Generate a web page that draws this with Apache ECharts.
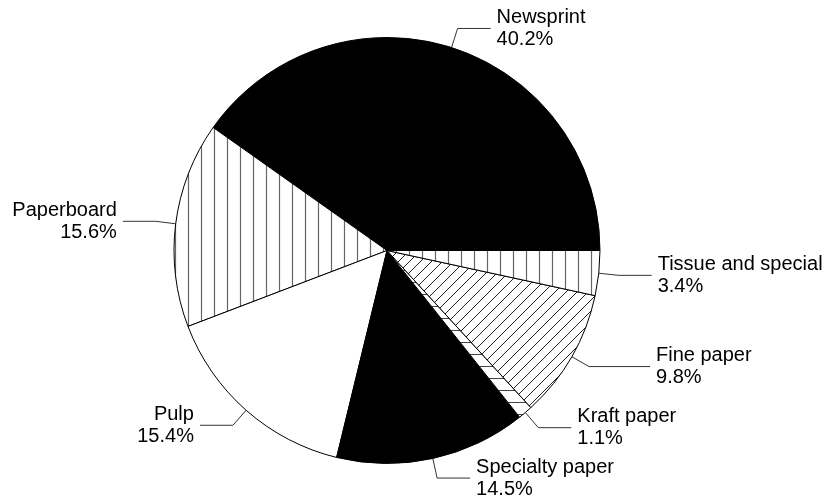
<!DOCTYPE html>
<html>
<head>
<meta charset="utf-8">
<script src="https://cdn.jsdelivr.net/npm/echarts@6/dist/echarts.min.js"></script>
<style>
html,body{margin:0;padding:0;background:#fff;}
#chart{width:838px;height:498px;}
</style>
</head>
<body>
<div id="chart"></div>
<script>
const categories = ["Newsprint", "Paperboard", "Pulp", "Specialty paper", "Kraft paper", "Fine paper", "Tissue and special"];
const shares = [40.2, 15.6, 15.4, 14.5, 1.1, 9.8, 3.4];
const fills = ["solid-black", "vertical", "solid-white", "solid-black", "horizontal", "diagonal", "vertical"];
const leaderTail = [33, 33, 33, 33, 33, 61, 33];

function makePattern(kind) {
  const c = document.createElement('canvas');
  const ctx = c.getContext('2d');
  if (kind === 'vertical') {
    c.width = 13; c.height = 13;
    ctx.fillStyle = '#fff'; ctx.fillRect(0, 0, 13, 13);
    ctx.strokeStyle = '#666'; ctx.lineWidth = 1.2;
    ctx.beginPath(); ctx.moveTo(6.5, 0); ctx.lineTo(6.5, 13); ctx.stroke();
  } else if (kind === 'horizontal') {
    c.width = 12; c.height = 12;
    ctx.fillStyle = '#fff'; ctx.fillRect(0, 0, 12, 12);
    ctx.strokeStyle = '#444'; ctx.lineWidth = 1;
    ctx.beginPath(); ctx.moveTo(0, 6.5); ctx.lineTo(12, 6.5); ctx.stroke();
  } else if (kind === 'diagonal') {
    const s = 11;
    c.width = s; c.height = s;
    ctx.fillStyle = '#fff'; ctx.fillRect(0, 0, s, s);
    ctx.strokeStyle = '#222'; ctx.lineWidth = 1;
    ctx.beginPath();
    ctx.moveTo(-1, 1); ctx.lineTo(1, -1);
    ctx.moveTo(0, s); ctx.lineTo(s, 0);
    ctx.moveTo(s - 1, s + 1); ctx.lineTo(s + 1, s - 1);
    ctx.stroke();
  }
  return { image: c, repeat: 'repeat' };
}

function fillFor(kind) {
  if (kind === 'solid-black') return '#000';
  if (kind === 'solid-white') return '#fff';
  return makePattern(kind);
}

const data = categories.map((name, i) => ({
  name: name,
  value: shares[i],
  itemStyle: { color: fillFor(fills[i]) },
  labelLine: { length2: leaderTail[i] }
}));

const chart = echarts.init(document.getElementById('chart'), null, { renderer: 'canvas' });
chart.setOption({
  animation: false,
  backgroundColor: '#fff',
  series: [{
    type: 'pie',
    center: [387, 250.5],
    radius: [0, 213],
    startAngle: 0,
    clockwise: false,
    avoidLabelOverlap: false,
    data: data,
    itemStyle: { borderColor: '#000', borderWidth: 1 },
    emphasis: { disabled: true },
    label: {
      show: true,
      position: 'outside',
      formatter: function (p) { return p.name + '\n' + p.value.toFixed(1) + '%'; },
      fontFamily: 'Liberation Sans, Arial, sans-serif',
      fontSize: 20,
      lineHeight: 22,
      color: '#000',
      distanceToLabelLine: 6
    },
    labelLine: {
      show: true,
      length: 20,
      length2: 33,
      smooth: false,
      lineStyle: { color: '#333', width: 1 }
    }
  }]
});
</script>
</body>
</html>
